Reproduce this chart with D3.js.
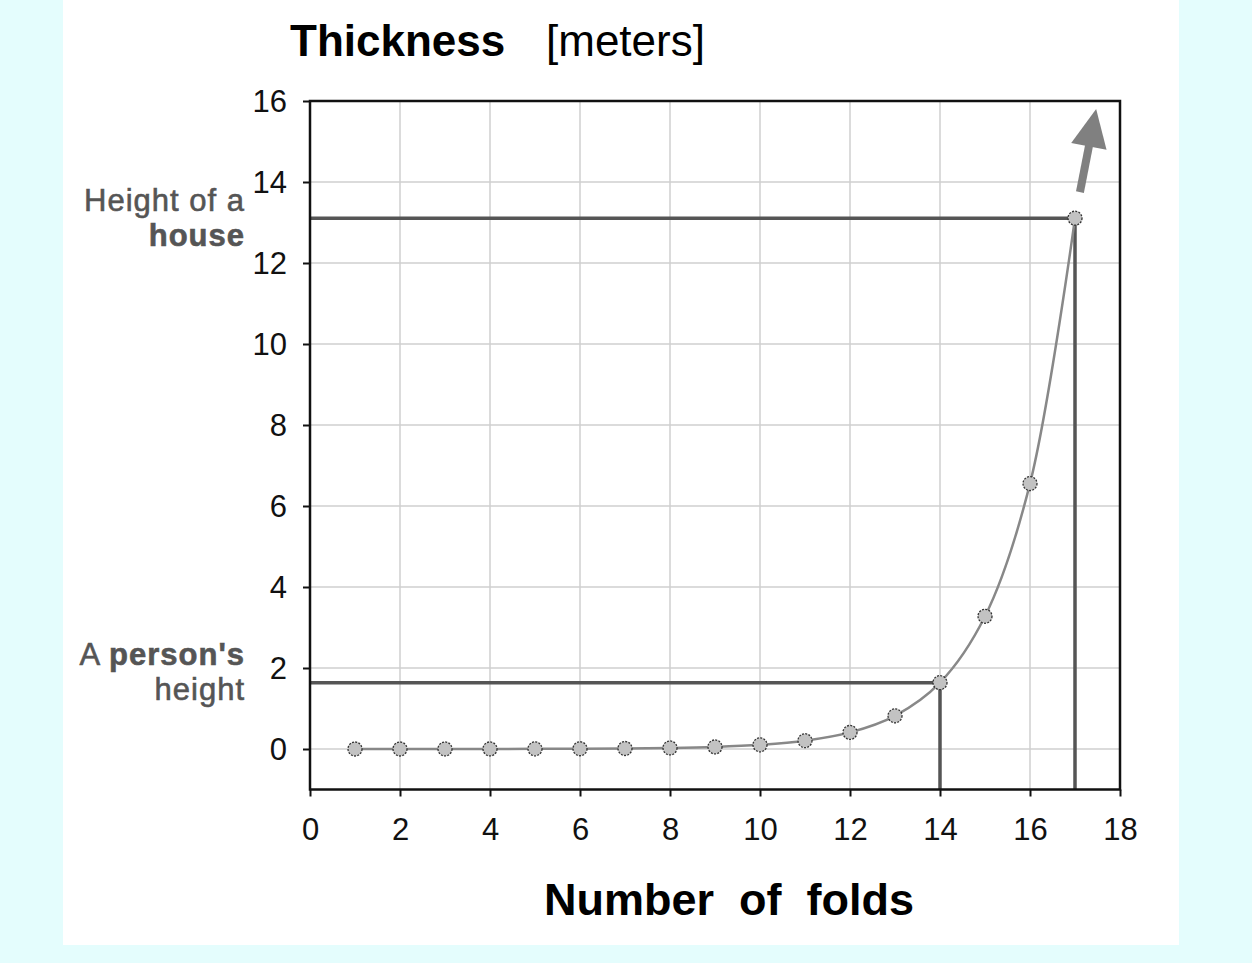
<!DOCTYPE html>
<html>
<head>
<meta charset="utf-8">
<script src="https://cdn.jsdelivr.net/npm/d3@7"></script>
<style>
  html, body { margin: 0; padding: 0; background: #e4fdfd; }
  svg { display: block; font-family: "Liberation Sans", Arial, sans-serif; }
</style>
</head>
<body>
<script>
// folds and thickness (meters)
var folds = [1, 2, 3, 4, 5, 6, 7, 8, 9, 10, 11, 12, 13, 14, 15, 16, 17];
var thickness = [0.0002, 0.0004, 0.0008, 0.0016, 0.0032, 0.0064, 0.0128, 0.0256, 0.0512,
  0.1024, 0.2048, 0.4096, 0.8192, 1.6384, 3.2768, 6.5536, 13.1072];
var xTicks = [0, 2, 4, 6, 8, 10, 12, 14, 16, 18];
var yTicks = [0, 2, 4, 6, 8, 10, 12, 14, 16];
// marker lines: person's height at fold 14, house at fold 17
var refFolds = [14, 17];
var refValues = [1.6384, 13.1072];
// arrow pointing up beyond the chart
var arrowFrom = [17.11, 13.75];
var arrowTo = [17.47, 15.8];

var W = 1252, H = 963;
var svg = d3.select("body").append("svg")
  .attr("width", W)
  .attr("height", H);

svg.append("rect").attr("x", 63).attr("y", 0).attr("width", 1116).attr("height", 945).attr("fill", "#fff");

var x = d3.scaleLinear().domain([0, 18]).range([310, 1120]);
var y = d3.scaleLinear().domain([-1, 16]).range([789.5, 101]);

// grid
svg.append("g").selectAll("line").data(xTicks.slice(1, -1)).join("line")
  .attr("x1", d => x(d)).attr("x2", d => x(d))
  .attr("y1", y(16)).attr("y2", y(-1))
  .attr("stroke", "#cfcfcf").attr("stroke-width", 1.5);
svg.append("g").selectAll("line").data(yTicks.slice(0, -1)).join("line")
  .attr("x1", x(0)).attr("x2", x(18))
  .attr("y1", d => y(d)).attr("y2", d => y(d))
  .attr("stroke", "#cfcfcf").attr("stroke-width", 1.5);

// axes
var xAxis = svg.append("g").attr("transform", "translate(0," + y(-1) + ")")
  .call(d3.axisBottom(x).tickValues(xTicks).tickSize(7).tickPadding(21).tickFormat(d3.format("d")));
var yAxis = svg.append("g").attr("transform", "translate(" + x(0) + ",0)")
  .call(d3.axisLeft(y).tickValues(yTicks).tickSize(7).tickPadding(16).tickFormat(d3.format("d")));
[xAxis, yAxis].forEach(function (g) {
  g.attr("font-size", null).attr("font-family", null);
  g.select(".domain").remove();
  g.selectAll("line").attr("stroke", "#111").attr("stroke-width", 2);
  g.selectAll("text").style("font-size", "31px").attr("fill", "#111");
});
xAxis.selectAll("text").attr("dy", "0.71em");
yAxis.selectAll("text").attr("dy", "0.35em");

// reference lines
var refG = svg.append("g");
refFolds.forEach(function (f, i) {
  refG.append("polyline")
    .attr("points", [[x(0), y(refValues[i])], [x(f), y(refValues[i])], [x(f), y(-1)]].join(" "))
    .attr("fill", "none").attr("stroke", "#555").attr("stroke-width", 3.5);
});

// frame
svg.append("rect")
  .attr("x", x(0)).attr("y", y(16))
  .attr("width", x(18) - x(0)).attr("height", y(-1) - y(16))
  .attr("fill", "none").attr("stroke", "#111").attr("stroke-width", 2.5);

// curve
var pts = folds.map((f, i) => [f, thickness[i]]);
svg.append("path").datum(pts)
  .attr("d", d3.line().x(d => x(d[0])).y(d => y(d[1])).curve(d3.curveCatmullRom))
  .attr("fill", "none").attr("stroke", "#888").attr("stroke-width", 2.5);

svg.append("g").selectAll("circle").data(pts).join("circle")
  .attr("cx", d => x(d[0])).attr("cy", d => y(d[1])).attr("r", 7)
  .attr("fill", "#c2c2c2").attr("stroke", "#333").attr("stroke-width", 1.3)
  .attr("stroke-dasharray", "2,1.3");

// arrow
var ax0 = x(arrowFrom[0]), ay0 = y(arrowFrom[1]), ax1 = x(arrowTo[0]), ay1 = y(arrowTo[1]);
var ang = Math.atan2(ay1 - ay0, ax1 - ax0);
var headLen = 38, headHalf = 18;
var bx = ax1 - headLen * Math.cos(ang), by = ay1 - headLen * Math.sin(ang);
var px = -Math.sin(ang), py = Math.cos(ang);
svg.append("line")
  .attr("x1", ax0).attr("y1", ay0).attr("x2", bx + 2 * Math.cos(ang)).attr("y2", by + 2 * Math.sin(ang))
  .attr("stroke", "#808080").attr("stroke-width", 8);
svg.append("polygon")
  .attr("points", [[ax1, ay1], [bx + px * headHalf, by + py * headHalf], [bx - px * headHalf, by - py * headHalf]].join(" "))
  .attr("fill", "#808080");

// titles
var title = svg.append("text").attr("x", 290).attr("y", 56).attr("fill", "#000");
title.append("tspan").attr("font-weight", "bold").style("font-size", "44px").text("Thickness");
title.append("tspan").attr("x", 546).style("font-size", "44px").text("[meters]");

svg.append("text").attr("x", 729).attr("y", 915).attr("text-anchor", "middle")
  .attr("font-weight", "bold").style("font-size", "45px").attr("fill", "#000")
  .style("white-space", "pre")
  .text("Number  of  folds");

// side labels
function sideLabel(yPos, parts) {
  var t = svg.append("text").attr("x", 245).attr("y", yPos).attr("text-anchor", "end")
    .style("font-size", "31px").style("letter-spacing", "1px")
    .attr("fill", "#555").attr("stroke", "#555").attr("stroke-width", 0.6);
  parts.forEach(function (p) {
    t.append("tspan").attr("font-weight", p[1] ? "bold" : "normal").text(p[0]);
  });
}
sideLabel(211, [["Height of a", false]]);
sideLabel(246, [["house", true]]);
sideLabel(665, [["A ", false], ["person's", true]]);
sideLabel(700, [["height", false]]);
</script>
</body>
</html>
